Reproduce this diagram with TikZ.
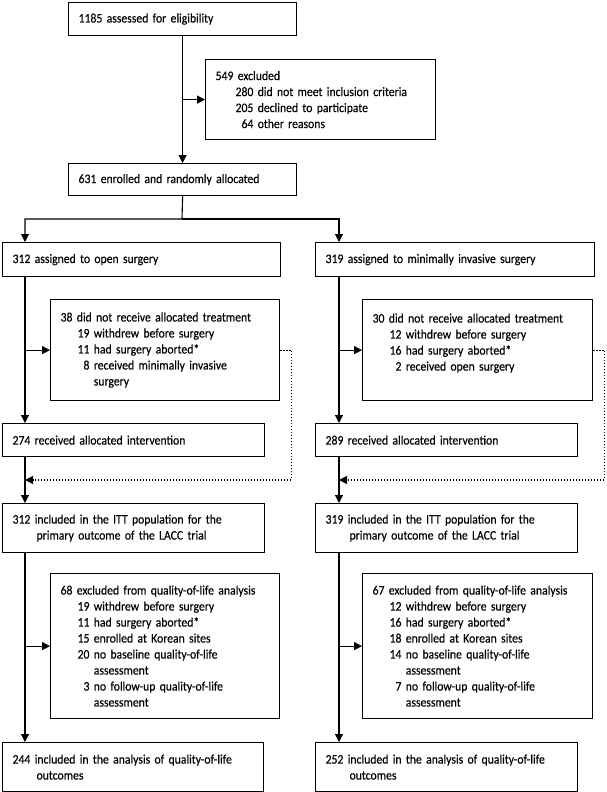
\documentclass[tikz,border=0pt]{standalone}
\usepackage{fontspec}
\setmainfont[FakeStretch=0.9,FakeBold=0.3]{Carlito}
\usetikzlibrary{positioning,arrows.meta}
\newcommand{\subline}[1]{\hspace*{17pt}#1}

\begin{document}
\begin{tikzpicture}[x=1pt,y=-1pt,
  box/.style={draw, line width=1.2pt, anchor=north west, align=left,
    inner xsep=10pt, inner ysep=0pt, font=\fontsize{13}{16}\selectfont},
  arr/.style={line width=1.1pt, -{Triangle[length=8pt,width=8pt]}},
  dotarr/.style={arr, dash pattern=on 1.3pt off 1.7pt}]
\useasboundingbox (0,0) rectangle (606,792);
% Top: screening
\node[box, text width=208pt, minimum height=33pt] (assess) at (68,2) {1185 assessed for eligibility};
\node[box, text width=210pt, minimum height=80pt] (excl) at (205,59) {549 excluded\\
  \hspace*{20pt}280 did not meet inclusion criteria\\
  \hspace*{20pt}205 declined to participate\\
  \hspace*{20pt}\phantom{0}64 other reasons};
\node[box, text width=208pt, minimum height=32pt] (enrol) at (68,163) {631 enrolled and randomly allocated};
% Left arm: open surgery
\node[box, text width=258pt, minimum height=34pt] (openA) at (2,242) {312 assigned to open surgery};
\node[box, text width=209pt, minimum height=101pt] (openNo) at (50,299) {38 did not receive allocated treatment\\
  \subline{19 withdrew before surgery}\\
  \subline{11 had surgery aborted*}\\
  \subline{\phantom{0}8 received minimally invasive}\\
  \subline{\phantom{00}\ surgery}};
\node[box, text width=242pt, minimum height=33pt] (openRec) at (2,423) {274 received allocated intervention};
\node[box, text width=242pt, minimum height=49pt] (openITT) at (2,503) {312 included in the ITT population for the\\
  \hspace*{24pt}primary outcome of the LACC trial};
\node[box, text width=209pt, minimum height=145pt] (openQol) at (50,573) {68 excluded from quality-of-life analysis\\
  \subline{19 withdrew before surgery}\\
  \subline{11 had surgery aborted*}\\
  \subline{15 enrolled at Korean sites}\\
  \subline{20 no baseline quality-of-life}\\
  \subline{\phantom{00}\ assessment}\\
  \subline{\phantom{0}3 no follow-up quality-of-life}\\
  \subline{\phantom{00}\ assessment}};
\node[box, text width=241pt, minimum height=49pt] (openFin) at (2,742) {244 included in the analysis of quality-of-life\\
  \hspace*{24pt}outcomes};
% Right arm: minimally invasive surgery
\node[box, text width=259pt, minimum height=34pt] (minA) at (315,242) {319 assigned to minimally invasive surgery};
\node[box, text width=210pt, minimum height=101pt] (minNo) at (362,299) {30 did not receive allocated treatment\\
  \subline{12 withdrew before surgery}\\
  \subline{16 had surgery aborted*}\\
  \subline{\phantom{0}2 received open surgery}\\
  \mbox{}};
\node[box, text width=242pt, minimum height=33pt] (minRec) at (315,423) {289 received allocated intervention};
\node[box, text width=242pt, minimum height=49pt] (minITT) at (315,503) {319 included in the ITT population for the\\
  \hspace*{24pt}primary outcome of the LACC trial};
\node[box, text width=210pt, minimum height=145pt] (minQol) at (362,573) {67 excluded from quality-of-life analysis\\
  \subline{12 withdrew before surgery}\\
  \subline{16 had surgery aborted*}\\
  \subline{18 enrolled at Korean sites}\\
  \subline{14 no baseline quality-of-life}\\
  \subline{\phantom{00}\ assessment}\\
  \subline{\phantom{0}7 no follow-up quality-of-life}\\
  \subline{\phantom{00}\ assessment}};
\node[box, text width=242pt, minimum height=49pt] (minFin) at (315,742) {252 included in the analysis of quality-of-life\\
  \hspace*{24pt}outcomes};
% Connector points
\coordinate (split) at (182,219);
\coordinate (colL) at (25,0);
\coordinate (colR) at (339,0);
\coordinate (mergeL) at (25,480);
\coordinate (mergeR) at (339,480);
% Connectors: screening
\draw[arr] (assess.south) -- (enrol.north);
\draw[arr] (assess.south |- excl.west) -- (excl.west);
\draw[arr] (enrol.south) -- (split) -| (colL |- openA.north);
\draw[arr] (split) -| (colR |- minA.north);
% Connectors: open surgery
\draw[arr] (colL |- openA.south) -- (colL |- openRec.north);
\draw[arr] (colL |- openNo.west) -- (openNo.west);
\draw[dotarr] (openNo.east) -- ++(11,0) |- (mergeL);
\draw[arr] (colL |- openRec.south) -- (colL |- openITT.north);
\draw[arr] (colL |- openITT.south) -- (colL |- openFin.north);
\draw[arr] (colL |- openQol.west) -- (openQol.west);
% Connectors: minimally invasive surgery
\draw[arr] (colR |- minA.south) -- (colR |- minRec.north);
\draw[arr] (colR |- minNo.west) -- (minNo.west);
\draw[dotarr] (minNo.east) -- ++(11,0) |- (mergeR);
\draw[arr] (colR |- minRec.south) -- (colR |- minITT.north);
\draw[arr] (colR |- minITT.south) -- (colR |- minFin.north);
\draw[arr] (colR |- minQol.west) -- (minQol.west);
\end{tikzpicture}
\end{document}
